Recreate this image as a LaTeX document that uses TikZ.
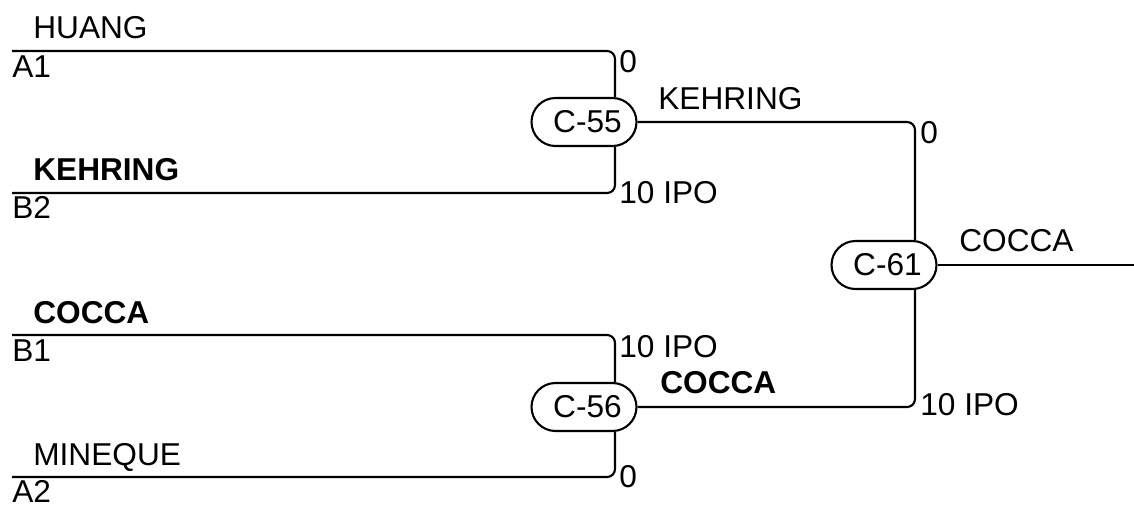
\documentclass[tikz,border=0pt]{standalone}
\usepackage{fontspec}
\setmainfont{Liberation Sans}
\usetikzlibrary{shapes.misc,calc}
\tikzset{
  partido/.style={draw, rounded rectangle, line width=1.2pt, minimum width=2.1cm, minimum height=0.96cm, inner sep=0pt, font=\fontsize{18}{21}\selectfont},
  linea/.style={line width=1.2pt, rounded corners=4.5pt},
  etiqueta/.style={anchor=base west, inner sep=0pt, font=\fontsize{18}{21}\selectfont},
  ganador/.style={etiqueta, font=\fontsize{18}{21}\selectfont\bfseries}
}
\begin{document}
\begin{tikzpicture}[x=0.02cm, y=-0.02cm]
    \useasboundingbox (0,0) rectangle (1134,508);
    % Partidos
    \node[partido] (c55) at (584,122) {\hspace{4pt}C-55};
    \node[partido] (c56) at (584,407) {\hspace{4pt}C-56};
    \node[partido] (c61) at (884,265) {\hspace{4pt}C-61};

    % Jugadores
    \coordinate (a1) at (12,51);
    \coordinate (b2) at (12,193);
    \coordinate (b1) at (12,335);
    \coordinate (a2) at (12,477);
    \coordinate (fin) at (1134,265);

    % Lineas
    \draw[linea] (a1) -| ($(c55.north)+(31,0)$);
    \draw[linea] (b2) -| ($(c55.south)+(31,0)$);
    \draw[linea] (b1) -| ($(c56.north)+(31,0)$);
    \draw[linea] (a2) -| ($(c56.south)+(31,0)$);
    \draw[linea] (c55.east) -| ($(c61.north)+(31,0)$);
    \draw[linea] (c56.east) -| ($(c61.south)+(31,0)$);
    \draw[linea] (c61.east) -- (fin);

    % Nombres
    \node[etiqueta] (huang) at (33,38) {HUANG};
    \node[etiqueta] (la1) at (12,77) {A1};
    \node[ganador] (kehring) at (33,180) {KEHRING};
    \node[etiqueta] (lb2) at (12,218) {B2};
    \node[ganador] (cocca) at (33,323) {COCCA};
    \node[etiqueta] (lb1) at (12,361) {B1};
    \node[etiqueta] (mineque) at (33,465) {MINEQUE};
    \node[etiqueta] (la2) at (12,502) {A2};

    % Resultados
    \node[etiqueta] (r55a) at (619,72) {0};
    \node[etiqueta] (r55b) at (619,203) {10 IPO};
    \node[etiqueta] (r56a) at (619,357) {10 IPO};
    \node[etiqueta] (r56b) at (619,487) {0};
    \node[etiqueta] (r61a) at (920,143) {0};
    \node[etiqueta] (r61b) at (920,415) {10 IPO};

    % Ganadores
    \node[etiqueta] (g55) at (658,109) {KEHRING};
    \node[ganador] (g56) at (660,393) {COCCA};
    \node[etiqueta] (g61) at (959,251) {COCCA};
\end{tikzpicture}
\end{document}
